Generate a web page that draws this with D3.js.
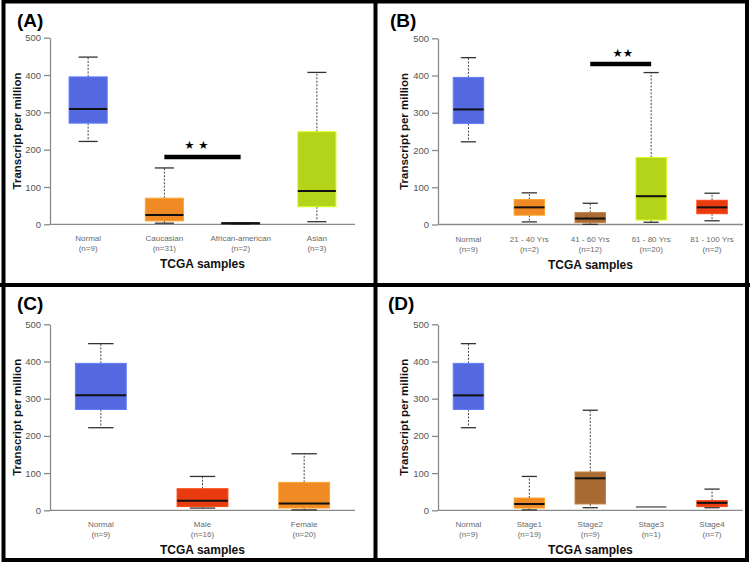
<!DOCTYPE html>
<html><head><meta charset="utf-8">
<script src="https://cdn.jsdelivr.net/npm/d3@7"></script>
<style>
html,body{margin:0;padding:0;background:#fff;}
svg{display:block;}
</style></head>
<body>
<svg id="chart" width="750" height="565"></svg>
<script>
// ---------- DATA ----------
const yTicks = [0, 100, 200, 300, 400, 500];
const panelTags = ["(A)", "(B)", "(C)", "(D)"];
const xTitle = "TCGA samples";
const yTitle = "Transcript per million";

// Panel A: race
const catsA = ["Normal", "Caucasian", "African-american", "Asian"];
const nA = ["(n=9)", "(n=31)", "(n=2)", "(n=3)"];
// [min, q1, median, q3, max]
const boxesA = [[222, 271, 309, 395, 448], [3, 9, 25, 70, 151], [0.5, 1, 2.5, 4, 4.5], [7, 47, 89, 248, 407]];
const sigA = [1, 2, 180, "★ ★"];

// Panel B: age
const catsB = ["Normal", "21 - 40 Yrs", "41 - 60 Yrs", "61 - 80 Yrs", "81 - 100 Yrs"];
const nB = ["(n=9)", "(n=2)", "(n=12)", "(n=20)", "(n=2)"];
const boxesB = [[222, 271, 309, 395, 448], [7, 25, 46, 67, 85], [0.5, 5, 16, 32, 57], [6, 12, 76, 180, 408], [10, 29, 46, 65, 84]];
const sigB = [2, 3, 431, "★★"];

// Panel C: gender
const catsC = ["Normal", "Male", "Female"];
const nC = ["(n=9)", "(n=16)", "(n=20)"];
const boxesC = [[222, 271, 309, 395, 448], [6, 10, 26, 58, 91], [1, 6, 18, 75, 152]];

// Panel D: stage
const catsD = ["Normal", "Stage1", "Stage2", "Stage3", "Stage4"];
const nD = ["(n=9)", "(n=19)", "(n=9)", "(n=1)", "(n=7)"];
const boxesD = [[222, 271, 309, 395, 448], [1, 6, 17, 33, 91], [7, 17, 86, 103, 269], [9, 9, 9, 9, 9], [7, 10, 20, 26, 57]];

// ---------- STYLE ----------
const colorsA = ["#5468e0", "#ef8a24", "#3c3c3c", "#b4d41a"];
const colorsB = ["#5468e0", "#ef8a24", "#a86b34", "#b4d41a", "#e83b10"];
const colorsC = ["#5468e0", "#e83b10", "#ef8a24"];
const colorsD = ["#5468e0", "#ef8a24", "#a86b34", "#666666", "#e83b10"];

const layout = [
  {cats: catsA, ns: nA, boxes: boxesA, colors: colorsA, sig: sigA, ax0: 50, ax1: 355, bx0: 50, bx1: 355, y0: 224.3, y5: 37.7, tagX: 17, tagY: 27, ytX: 20.5, starDy: -12, starOff: -6},
  {cats: catsB, ns: nB, boxes: boxesB, colors: colorsB, sig: sigB, ax0: 438, ax1: 743, bx0: 438, bx1: 742.5, y0: 224.5, y5: 38.3, tagX: 390, tagY: 27, ytX: 407.5, starDy: -11, starOff: 2},
  {cats: catsC, ns: nC, boxes: boxesC, colors: colorsC, sig: null, ax0: 50, ax1: 355, bx0: 50, bx1: 355, y0: 510.3, y5: 324.3, tagX: 17, tagY: 310, ytX: 20.5},
  {cats: catsD, ns: nD, boxes: boxesD, colors: colorsD, sig: null, ax0: 438, ax1: 742.7, bx0: 438, bx1: 742.5, y0: 510.3, y5: 324.3, tagX: 388, tagY: 309.5, ytX: 407.5}
];

const FONT = "'Liberation Sans', Arial, Helvetica, sans-serif";
const svg = d3.select("#chart");
svg.append("rect").attr("width", 750).attr("height", 565).attr("fill", "#fff");

layout.forEach((p, pi) => {
  const g = svg.append("g");
  const y = d3.scaleLinear().domain([0, 500]).range([p.y0, p.y5]);
  const x = d3.scaleBand().domain(p.cats).range([p.bx0, p.bx1]).paddingInner(0.5).paddingOuter(0.25);
  const bw = x.bandwidth();

  // y axis
  const yAxis = d3.axisLeft(y).tickValues(yTicks).tickSize(6).tickSizeOuter(0).tickPadding(3);
  const ya = g.append("g").attr("transform", `translate(${p.ax0},0)`).call(yAxis);
  ya.select(".domain").attr("stroke", "#8a8a8a").attr("stroke-width", 1.3);
  ya.selectAll(".tick line").attr("stroke", "#8a8a8a").attr("stroke-width", 1.3);
  ya.selectAll(".tick text").attr("fill", "#555").style("font-size", "9.5px").style("font-family", FONT);

  // x axis line
  g.append("line").attr("x1", p.ax0).attr("x2", p.ax1).attr("y1", y(0)).attr("y2", y(0))
    .attr("stroke", "#8a8a8a").attr("stroke-width", 1.3);

  // category labels
  p.cats.forEach((c, i) => {
    const cx = x(c) + bw / 2;
    g.append("text").attr("x", cx).attr("y", y(0) + 17).attr("text-anchor", "middle")
      .style("font-family", FONT).style("font-size", "8px").style("fill", "#6a6a6a").text(c);
    g.append("text").attr("x", cx).attr("y", y(0) + 27).attr("text-anchor", "middle")
      .style("font-family", FONT).style("font-size", "8px").style("fill", "#6a6a6a").text(p.ns[i]);
  });

  // boxes
  p.cats.forEach((c, i) => {
    const [mn, q1, md, q3, mx] = p.boxes[i];
    const col = p.colors[i];
    const cx = x(c) + bw / 2;
    const bg = g.append("g");
    if (mx > q3) {
      bg.append("line").attr("x1", cx).attr("x2", cx).attr("y1", y(q3)).attr("y2", y(mx))
        .attr("stroke", "#444").attr("stroke-width", 1).attr("stroke-dasharray", "2,1.5");
      bg.append("line").attr("x1", cx - bw / 4).attr("x2", cx + bw / 4).attr("y1", y(mx)).attr("y2", y(mx))
        .attr("stroke", "#333").attr("stroke-width", 1.3);
    }
    if (mn < q1) {
      bg.append("line").attr("x1", cx).attr("x2", cx).attr("y1", y(q1)).attr("y2", y(mn))
        .attr("stroke", "#444").attr("stroke-width", 1).attr("stroke-dasharray", "2,1.5");
      bg.append("line").attr("x1", cx - bw / 4).attr("x2", cx + bw / 4).attr("y1", y(mn)).attr("y2", y(mn))
        .attr("stroke", "#333").attr("stroke-width", 1.3);
    }
    if (q3 > q1) {
      bg.append("rect").attr("x", x(c)).attr("width", bw).attr("y", y(q3)).attr("height", y(q1) - y(q3))
        .attr("fill", col).attr("stroke", d3.color(col).brighter(0.5)).attr("stroke-width", 1);
      bg.append("line").attr("x1", x(c)).attr("x2", x(c) + bw).attr("y1", y(md)).attr("y2", y(md))
        .attr("stroke", "#111").attr("stroke-width", 2);
    } else {
      bg.append("line").attr("x1", x(c)).attr("x2", x(c) + bw).attr("y1", y(md)).attr("y2", y(md))
        .attr("stroke", col).attr("stroke-width", 1.5);
    }
  });

  // significance
  if (p.sig) {
    const [a, b, v, stars] = p.sig;
    const xa = x(p.cats[a]) + bw / 2, xb = x(p.cats[b]) + bw / 2;
    g.append("line").attr("x1", xa).attr("x2", xb).attr("y1", y(v)).attr("y2", y(v))
      .attr("stroke", "#000").attr("stroke-width", 4.5);
    g.append("text").attr("x", (xa + xb) / 2 + p.starOff).attr("y", y(v) + p.starDy + 4)
      .attr("text-anchor", "middle").style("font-family", "'DejaVu Sans', sans-serif")
      .style("font-size", "11.5px").style("fill", "#000").text(stars);
  }

  // titles
  g.append("text").attr("x", (p.ax0 + p.ax1) / 2).attr("y", y(0) + 44).attr("text-anchor", "middle")
    .style("font-family", FONT).style("font-weight", "bold").style("font-size", "12px").style("fill", "#111").text(xTitle);
  const ym = (p.y0 + p.y5) / 2;
  g.append("text").attr("transform", `translate(${p.ytX},${ym}) rotate(-90)`).attr("text-anchor", "middle")
    .style("font-family", FONT).style("font-weight", "bold").style("font-size", "11.5px").style("fill", "#111").text(yTitle);
  g.append("text").attr("x", p.tagX).attr("y", p.tagY).style("font-family", FONT).style("font-weight", "bold")
    .style("font-size", "19px").style("fill", "#000").text(panelTags[pi]);
});

// frame
svg.append("rect").attr("x", 3.5).attr("y", 1.5).attr("width", 743.5).attr("height", 558.5)
  .attr("fill", "none").attr("stroke", "#000").attr("stroke-width", 4);
svg.append("line").attr("x1", 375.5).attr("x2", 375.5).attr("y1", 0).attr("y2", 562)
  .attr("stroke", "#000").attr("stroke-width", 4);
svg.append("line").attr("x1", 0).attr("x2", 750).attr("y1", 285).attr("y2", 285)
  .attr("stroke", "#000").attr("stroke-width", 4);
</script>
</body></html>
